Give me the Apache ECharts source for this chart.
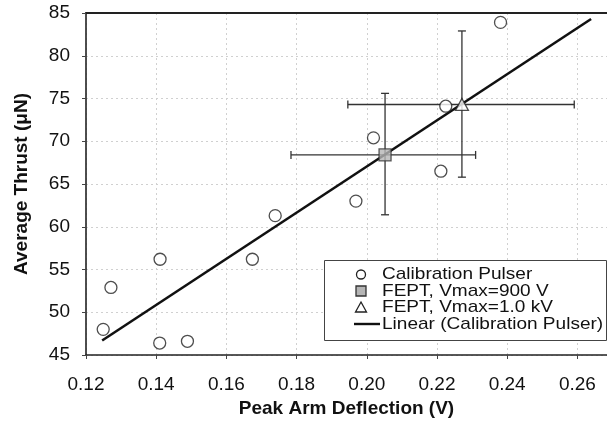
<!DOCTYPE html>
<html>
<head>
<meta charset="utf-8">
<script src="https://cdn.jsdelivr.net/npm/echarts@6/dist/echarts.min.js"></script>
<style>html,body{margin:0;padding:0;background:#fff;}#c{width:607px;height:423px;}</style>
</head>
<body>
<div id="c"></div>
<script>
// Calibration pulser points [deflection V, thrust uN]
const calX = [0.1249, 0.1271, 0.1411, 0.1410, 0.1489, 0.1674, 0.1739, 0.1969, 0.2019, 0.2211, 0.2225, 0.2381];
const calY = [48.0, 52.9, 56.2, 46.4, 46.6, 56.2, 61.3, 63.0, 70.4, 66.5, 74.1, 83.9];
// FEPT Vmax=900 V : [x, y, xLow, xHigh, yLow, yHigh]
const fept900 = [0.2052, 68.4, 0.1784, 0.2310, 61.4, 75.6];
// FEPT Vmax=1.0 kV
const fept1k = [0.2271, 74.3, 0.1946, 0.2591, 65.8, 82.9];
// Linear trendline endpoints
const linX = [0.1246, 0.2639];
const linY = [46.7, 84.3];
const xTicks = ['0.12','0.14','0.16','0.18','0.20','0.22','0.24','0.26'];
const yTicks = ['45','50','55','60','65','70','75','80','85'];
const legendNames = ['Calibration Pulser', 'FEPT, Vmax=900 V', 'FEPT, Vmax=1.0 kV', 'Linear (Calibration Pulser)'];

const FONT = '"Liberation Sans", Arial, sans-serif';
const chart = echarts.init(document.getElementById('c'), null, {renderer: 'canvas'});

const errRender = function (params, api) {
  const x = api.value(0), y = api.value(1);
  const c = api.coord([x, y]);
  const l = api.coord([api.value(2), y]);
  const r = api.coord([api.value(3), y]);
  const b = api.coord([x, api.value(4)]);
  const t = api.coord([x, api.value(5)]);
  const cap = 4;
  const st = {stroke: '#333', lineWidth: 1.3};
  return {
    type: 'group',
    children: [
      {type: 'line', shape: {x1: l[0], y1: c[1], x2: r[0], y2: c[1]}, style: st},
      {type: 'line', shape: {x1: l[0], y1: c[1]-cap, x2: l[0], y2: c[1]+cap}, style: st},
      {type: 'line', shape: {x1: r[0], y1: c[1]-cap, x2: r[0], y2: c[1]+cap}, style: st},
      {type: 'line', shape: {x1: c[0], y1: t[1], x2: c[0], y2: b[1]}, style: st},
      {type: 'line', shape: {x1: c[0]-cap, y1: t[1], x2: c[0]+cap, y2: t[1]}, style: st},
      {type: 'line', shape: {x1: c[0]-cap, y1: b[1], x2: c[0]+cap, y2: b[1]}, style: st}
    ]
  };
};

// legend drawn as graphic (box, icons, text)
const LG = {left: 324, top: 260, w: 282, h: 80, row0: 274.5, step: 16.5, icx: 361, tx: 382};
const legendGraphic = [
  {type: 'rect', z: 10, shape: {x: LG.left + 0.5, y: LG.top + 0.5, width: LG.w, height: LG.h},
   style: {fill: '#fff', stroke: '#444', lineWidth: 1}},
  {type: 'circle', z: 11, shape: {cx: LG.icx, cy: LG.row0, r: 4.5}, style: {fill: '#fff', stroke: '#222', lineWidth: 1.3}},
  {type: 'rect', z: 11, shape: {x: LG.icx - 5, y: LG.row0 + LG.step - 5, width: 10, height: 10}, style: {fill: '#b5b5b5', stroke: '#333', lineWidth: 1.3}},
  {type: 'polygon', z: 11, shape: {points: [[LG.icx, LG.row0 + 2*LG.step - 5.5], [LG.icx + 5.5, LG.row0 + 2*LG.step + 4.5], [LG.icx - 5.5, LG.row0 + 2*LG.step + 4.5]]}, style: {fill: '#fff', stroke: '#222', lineWidth: 1.3}},
  {type: 'line', z: 11, shape: {x1: 354, y1: LG.row0 + 3*LG.step, x2: 380, y2: LG.row0 + 3*LG.step}, style: {stroke: '#111', lineWidth: 2.4}}
].concat(legendNames.map((n, i) => ({
  type: 'text', z: 11, x: LG.tx, y: LG.row0 + i * LG.step, scaleX: 1.12,
  style: {text: n, font: '17px ' + FONT, fill: '#111', textVerticalAlign: 'middle', verticalAlign: 'middle'}
})));

const XMAX = 0.12 + (607 - 86) / 3510;

const option = {
  backgroundColor: '#fff',
  animation: false,
  textStyle: {fontFamily: FONT},
  grid: {left: 86, top: 13, right: 0, bottom: 68, show: false},
  graphic: legendGraphic,
  xAxis: [{
    type: 'value', min: 0.12, max: XMAX, interval: 0.02,
    name: 'Peak Arm Deflection (V)', nameLocation: 'middle', nameGap: 44,
    nameTextStyle: {fontFamily: FONT, fontSize: 19, fontWeight: 'bold', color: '#111'},
    axisLine: {show: true, onZero: false, lineStyle: {color: '#222', width: 1.6}},
    axisTick: {show: true, length: 4, lineStyle: {color: '#444'}},
    axisLabel: {fontFamily: FONT, fontSize: 19, color: '#111', margin: 20, showMaxLabel: false,
      formatter: function (v) { const i = Math.round((v - 0.12) / 0.02); return Math.abs(v - (0.12 + i*0.02)) < 1e-6 ? (xTicks[i] || '') : ''; }},
    splitLine: {show: true, lineStyle: {color: '#d0d0d0', type: [2, 3], width: 1}}
  }, {
    type: 'value', position: 'top', min: 0.12, max: XMAX,
    axisLine: {show: true, onZero: false, lineStyle: {color: '#222', width: 2}},
    axisTick: {show: false}, axisLabel: {show: false}, splitLine: {show: false}
  }],
  yAxis: {
    type: 'value', min: 45, max: 85, interval: 5,
    name: 'Average Thrust (\u03bcN)', nameLocation: 'middle', nameGap: 55,
    nameTextStyle: {fontFamily: FONT, fontSize: 19, fontWeight: 'bold', color: '#111'},
    axisLine: {show: true, onZero: false, lineStyle: {color: '#222', width: 1.6}},
    axisTick: {show: true, length: 4, lineStyle: {color: '#444'}},
    axisLabel: {fontFamily: FONT, fontSize: 19, color: '#111', margin: 16,
      formatter: function (v) { const i = Math.round((v - 45) / 5); return yTicks[i] || ''; }},
    splitLine: {show: true, lineStyle: {color: '#d0d0d0', type: [2, 3], width: 1}}
  },
  series: [
    {
      name: legendNames[3], type: 'line', symbol: 'none', z: 3,
      data: linX.map((x, i) => [x, linY[i]]),
      lineStyle: {color: '#111', width: 2.6}, itemStyle: {color: '#111'}
    },
    {
      name: 'err', type: 'custom', z: 2,
      renderItem: errRender,
      data: [fept900.slice(), fept1k.slice()],
      encode: {x: [0, 2, 3], y: [1, 4, 5]}
    },
    {
      name: legendNames[0], type: 'scatter', symbol: 'circle', symbolSize: 12, z: 4,
      data: calX.map((x, i) => [x, calY[i]]),
      itemStyle: {color: '#fff', borderColor: '#222', borderWidth: 1.3}
    },
    {
      name: legendNames[1], type: 'scatter', symbol: 'rect', symbolSize: 12, z: 4,
      data: [[fept900[0], fept900[1]]],
      itemStyle: {color: '#b5b5b5', borderColor: '#333', borderWidth: 1.3}
    },
    {
      name: legendNames[2], type: 'scatter', symbol: 'triangle', symbolSize: [13, 12], z: 4,
      data: [[fept1k[0], fept1k[1]]],
      itemStyle: {color: '#fff', borderColor: '#222', borderWidth: 1.3}
    }
  ]
};
chart.setOption(option);
</script>
</body>
</html>
